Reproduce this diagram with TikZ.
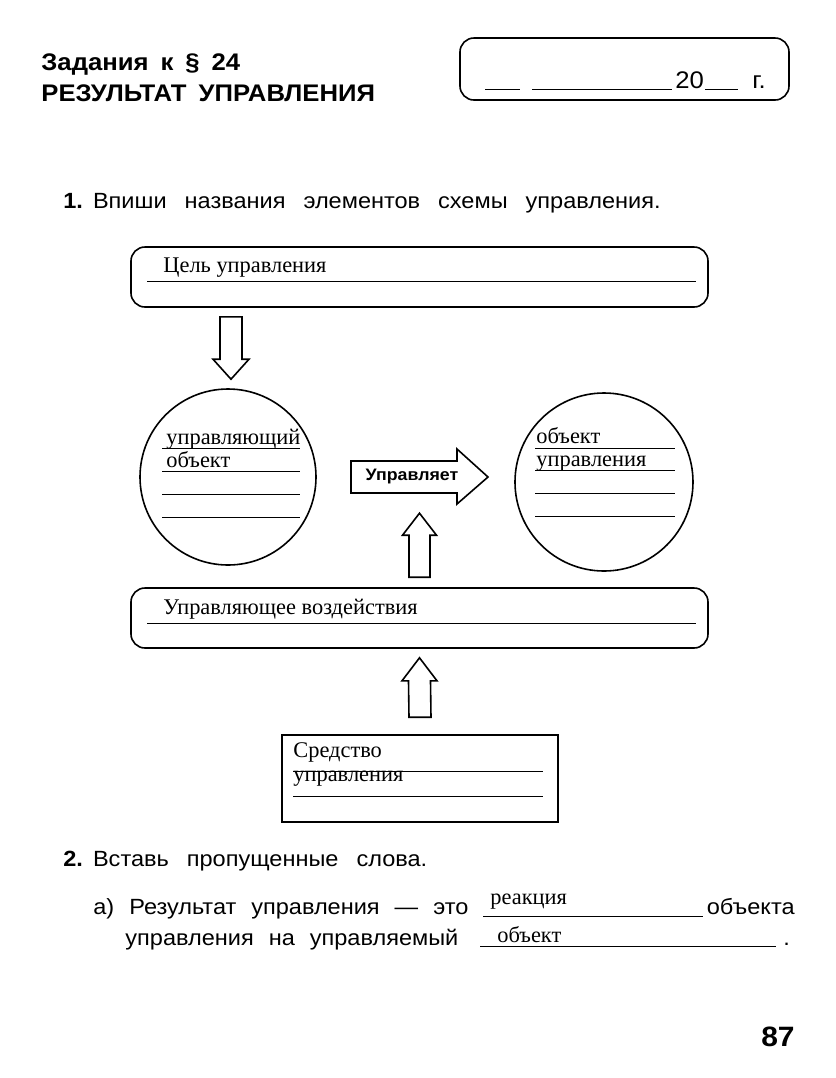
\documentclass[tikz,border=0pt]{standalone}
\usepackage{fontspec}
\setmainfont[FakeStretch=1.07]{Liberation Sans}
\newfontfamily\handfont{Liberation Serif}
\usetikzlibrary{calc}

\begin{document}
\begin{tikzpicture}[x=0.5pt, y=-0.5pt,
  rbox/.style={draw, line width=0.8pt, rounded corners=7pt, inner sep=0pt},
  blk/.style={draw, line width=0.8pt, line join=miter},
  uline/.style={line width=0.5pt},
  hand/.style={anchor=base west, inner sep=0pt, font=\handfont\fontsize{11.2}{13}\selectfont},
  task/.style={anchor=base west, inner sep=0pt, font=\fontsize{11}{13}\selectfont,
               execute at begin node={\spaceskip=7.5pt plus 1pt\relax}},
  tasknum/.style={task, execute at begin node={\spaceskip=9pt plus 1pt\relax}},
  head/.style={anchor=base west, inner sep=0pt, font=\bfseries\fontsize{12}{14}\selectfont,
               execute at begin node={\spaceskip=6pt plus 1pt\relax}},
]
\useasboundingbox (0,0) rectangle (836,1078);

% ---- Header ----
\node[head] (hdnum) at (41,70) {Задания к \S\ 24};
\node[head] (hdtitle) at (41,101) {РЕЗУЛЬТАТ УПРАВЛЕНИЯ};

\node[rbox, minimum width=164.5pt, minimum height=31pt] (datebox) at (624.5,69) {};
\draw[uline] (485,89) -- (520,89);
\draw[uline] (532,89) -- (672,89);
\node[anchor=base west, inner sep=0pt, font=\fontsize{12}{14}\selectfont] (dtwenty) at (675,88) {20};
\draw[uline] (705,89) -- (738,89);
\node[anchor=base west, inner sep=0pt, font=\fontsize{12}{14}\selectfont] (dyear) at (752,88) {г.};

% ---- Task 1 ----
\node[tasknum] (taskone) at (63,208) {\textbf{1.}\kern5pt Впиши названия элементов схемы управления.};

% ---- Goal ----
\node[rbox, minimum width=288.5pt, minimum height=30pt] (goal) at (419.5,277) {};
\node[hand] (goaltxt) at (163,272) {Цель управления};
\draw[uline] ($(goal.north west)+(17,35)$) -- ($(goal.north east)+(-13,35)$);

% ---- Controlling object and controlled object ----
\node[draw, circle, line width=0.8pt, minimum size=88pt] (ctrl) at (228,477) {};
\node[hand] (ctrlA) at (166,444) {управляющий};
\node[hand] (ctrlB) at (166,467) {объект};
\foreach \y in {448,471,494,517}
  \draw[uline] (162,\y) -- (300,\y);

\node[draw, circle, line width=0.8pt, minimum size=89pt] (obj) at (604,482) {};
\node[hand] (objA) at (536,443) {объект};
\node[hand] (objB) at (536,466) {управления};
\foreach \y in {448,470,493,516}
  \draw[uline] (535,\y) -- (675,\y);

% down arrow: goal -> ctrl
\coordinate (dA) at ($(goal.south -| ctrl.north)+(3,9)$);
\coordinate (dB) at ($(ctrl.north)+(3,-9)$);
\draw[blk] ($(dA)+(-11,0)$) -- ($(dB)+(-11,-20)$) -- ($(dB)+(-18,-20)$) -- (dB)
  -- ($(dB)+(18,-20)$) -- ($(dB)+(11,-20)$) -- ($(dA)+(11,0)$) -- cycle;

% ---- Acts on ----
\node[inner sep=0pt, font=\bfseries\fontsize{8.3}{10}\selectfont] (act) at (412,477) {Управляет};
\draw[blk] ($(act)+(-61,-16)$) -- ($(act)+(45,-16)$) -- ($(act)+(45,-28)$) -- ($(act)+(76,0)$)
  -- ($(act)+(45,27)$) -- ($(act)+(45,16)$) -- ($(act)+(-61,16)$) -- cycle;

% ---- Control action ----
\node[rbox, minimum width=288.5pt, minimum height=30pt] (infl) at (419.5,618) {};
\node[hand] (infltxt) at (163,614) {Управляющее воздействия};
\draw[uline] ($(infl.north west)+(17,36)$) -- ($(infl.north east)+(-13,36)$);

% up arrow: infl -> act
\coordinate (uA) at ($(infl.north)+(0,-10)$);
\coordinate (uB) at ($(infl.north)+(0,-74)$);
\draw[blk] ($(uA)+(-10.5,0)$) -- ($(uB)+(-10.5,22)$) -- ($(uB)+(-17,22)$) -- (uB)
  -- ($(uB)+(17,22)$) -- ($(uB)+(10.5,22)$) -- ($(uA)+(10.5,0)$) -- cycle;

% ---- Means ----
\node[draw, line width=0.8pt, minimum width=138pt, minimum height=43.5pt] (means) at (420,778.5) {};
\node[hand] (meansA) at (293,757) {Средство};
\node[hand] (meansB) at (293,781) {управления};
\draw[uline] (293,771) -- (543,771);
\draw[uline] (293,796) -- (543,796);

% up arrow: means -> infl
\coordinate (vA) at ($(means.north)+(0,-17)$);
\coordinate (vB) at ($(infl.south)+(0,9)$);
\draw[blk] ($(vA)+(-11,0)$) -- ($(vB)+(-11,23)$) -- ($(vB)+(-17.5,23)$) -- (vB)
  -- ($(vB)+(17.5,23)$) -- ($(vB)+(11,23)$) -- ($(vA)+(11,0)$) -- cycle;

% ---- Task 2 ----
\node[tasknum] (tasktwo) at (63,866) {\textbf{2.}\kern5pt Вставь пропущенные слова.};
\node[task] (rowA) at (93,914) {а) Результат управления — это};
\draw[uline] (483,916) -- (703,916);
\node[hand] (gapA) at (490,904) {реакция};
\node[task, anchor=base east] (rowAend) at (795,914) {объекта};
\node[task] (rowB) at (125,945) {управления на управляемый};
\draw[uline] (480,946) -- (776,946);
\node[hand] (gapB) at (497,942) {объект};
\node[task] (rowBend) at (783,945) {.};

% ---- Page ----
\node[anchor=base east, inner sep=0pt, font=\bfseries\fontsize{14}{16}\selectfont] (page) at (795,1046) {87};

\end{tikzpicture}
\end{document}
